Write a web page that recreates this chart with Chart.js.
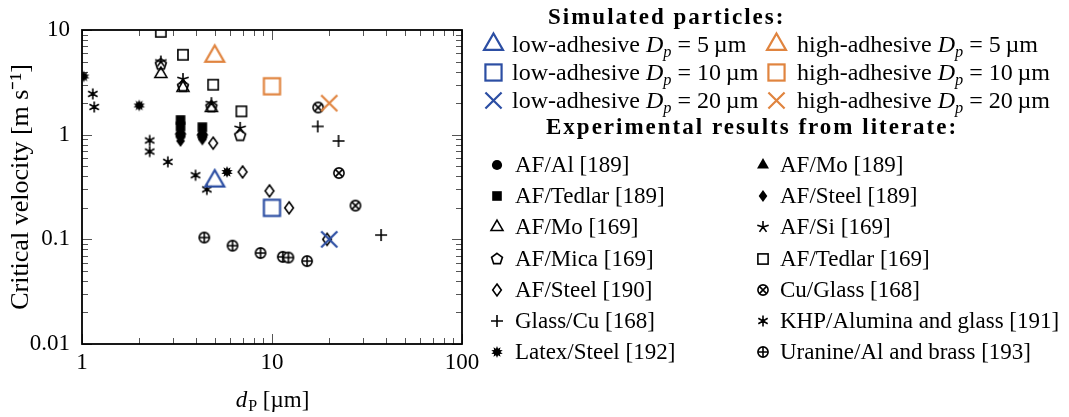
<!DOCTYPE html>
<html lang="en">
<head>
<meta charset="UTF-8">
<title>Critical velocity vs particle diameter</title>
<script src="https://cdn.jsdelivr.net/npm/chart.js"></script>
<style>
  body { margin: 0; background: #fff; }
  #wrap { position: relative; width: 1069px; height: 417px; font-family: 'Liberation Serif', serif; color: #000; }
  #chart { position: absolute; left: 0; top: 0; }
  .lg { position: absolute; white-space: nowrap; font-size: 23px; line-height: 26px; }
  .lg.sim { font-size: 24px; }
  .mk { position: absolute; }
  .hd { position: absolute; white-space: nowrap; font-weight: bold; font-size: 23px; line-height: 26px; letter-spacing: 2px; }
  sub { font-size: 68%; vertical-align: -0.3em; line-height: 0; }
</style>
</head>
<body>
<div id="wrap">
  <canvas id="chart" width="1069" height="417"></canvas>
</div>
<script>
// simulated particles (critical velocity, m/s)
const dpSim = [5, 10, 20];
const vLowAdhesive = [0.36, 0.20, 0.10];
const vHighAdhesive = [5.6, 2.9, 2.0];

// experimental results from literature: diameter (um) and critical velocity (m/s)
const afAl189D = [3.3, 4.3];
const afAl189V = [0.98, 0.97];
const afTedlar189D = [3.3, 3.3, 4.3];
const afTedlar189V = [1.38, 1.2, 1.18];
const afMo189D = [3.3, 4.3];
const afMo189V = [1.08, 1.06];
const afSteel189D = [3.3, 4.3];
const afSteel189V = [0.87, 0.9];
const afMo169D = [2.6, 3.4, 4.8];
const afMo169V = [3.8, 2.8, 1.8];
const afMica169D = [2.6, 3.4, 4.8, 6.8];
const afMica169V = [4.7, 2.9, 1.85, 0.98];
const afSteel190D = [4.9, 7.0, 9.7, 12.3, 19.5];
const afSteel190V = [0.83, 0.44, 0.29, 0.2, 0.1];
const glassCu168D = [17.4, 22.4, 37.5];
const glassCu168V = [1.2, 0.87, 0.11];
const latexSteel192D = [1.02, 2.0, 5.8];
const latexSteel192V = [3.6, 1.9, 0.44];
const afSi169D = [2.6, 3.4, 4.8, 6.8];
const afSi169V = [5.0, 3.4, 2.0, 1.16];
const afTedlar169D = [2.6, 3.4, 4.9, 6.9];
const afTedlar169V = [9.6, 5.8, 3.0, 1.67];
const cuGlass168D = [17.5, 22.5, 27.5];
const cuGlass168V = [1.82, 0.43, 0.21];
const khp191D = [1.14, 1.16, 2.27, 2.27, 2.83, 3.96, 4.54];
const khp191V = [2.45, 1.84, 0.88, 0.69, 0.55, 0.41, 0.30];
const uranine193D = [4.4, 6.2, 8.7, 11.4, 12.2, 15.3];
const uranine193V = [0.104, 0.087, 0.074, 0.068, 0.067, 0.062];

const xTickLabels = ['1', '10', '100'];
const yTickLabels = ['0.01', '0.1', '1', '10'];

const BLUE = '#2c4ea3';
const ORANGE = '#e0843f';
const FONT = "'Liberation Serif', serif";

// marker images (pgfplots-like marks)
function makeMarker(kind, color, size, lw) {
  const pad = Math.ceil(lw) + 1;
  const S = Math.ceil(size + 2 * pad);
  const c = document.createElement('canvas');
  c.width = S; c.height = S;
  const g = c.getContext('2d');
  const m = S / 2, r = size / 2;
  g.strokeStyle = color; g.fillStyle = color;
  g.lineWidth = lw; g.lineJoin = 'miter'; g.lineCap = 'butt';
  const poly = pts => {
    g.beginPath();
    pts.forEach(([x, y], i) => i ? g.lineTo(m + x, m + y) : g.moveTo(m + x, m + y));
    g.closePath();
  };
  const rays = (n, rr) => {
    g.beginPath();
    for (let k = 0; k < n; k++) {
      const a = -Math.PI / 2 + 2 * Math.PI * k / n;
      g.moveTo(m, m); g.lineTo(m + rr * Math.cos(a), m + rr * Math.sin(a));
    }
    g.stroke();
  };
  const R = r * 1.15;
  const tri = [[0, -R], [R * 0.866, R * 0.5], [-R * 0.866, R * 0.5]];
  const dia = [[0, -r], [r * 0.72, 0], [0, r], [-r * 0.72, 0]];
  switch (kind) {
    case 'circle': g.beginPath(); g.arc(m, m, r * 0.85, 0, 2 * Math.PI); g.fill(); break;
    case 'square': g.fillRect(m - r * 0.8, m - r * 0.8, r * 1.6, r * 1.6); break;
    case 'squareO': g.strokeRect(m - r * 0.85, m - r * 0.85, r * 1.7, r * 1.7); break;
    case 'triangle': poly(tri); g.fill(); break;
    case 'triangleO': poly(tri); g.stroke(); break;
    case 'diamond': poly(dia); g.fill(); break;
    case 'diamondO': poly(dia); g.stroke(); break;
    case 'pentagonO': {
      const p = [];
      for (let k = 0; k < 5; k++) {
        const a = -Math.PI / 2 + 2 * Math.PI * k / 5;
        p.push([r * 0.95 * Math.cos(a), r * 0.95 * Math.sin(a)]);
      }
      poly(p); g.stroke(); break;
    }
    case 'star5': rays(5, r); break;
    case 'asterisk': rays(6, r * 0.9); break;
    case 'plus':
      g.beginPath(); g.moveTo(m - r, m); g.lineTo(m + r, m); g.moveTo(m, m - r); g.lineTo(m, m + r); g.stroke(); break;
    case 'cross': {
      const d = r * 0.85;
      g.beginPath(); g.moveTo(m - d, m - d); g.lineTo(m + d, m + d); g.moveTo(m + d, m - d); g.lineTo(m - d, m + d); g.stroke(); break;
    }
    case 'oplus':
    case 'otimes': {
      const rc = r * 0.85;
      g.beginPath(); g.arc(m, m, rc, 0, 2 * Math.PI); g.fillStyle = '#fff'; g.fill(); g.stroke();
      g.beginPath();
      if (kind === 'oplus') {
        g.moveTo(m - rc, m); g.lineTo(m + rc, m); g.moveTo(m, m - rc); g.lineTo(m, m + rc);
      } else {
        const d = rc * 0.707;
        g.moveTo(m - d, m - d); g.lineTo(m + d, m + d); g.moveTo(m + d, m - d); g.lineTo(m - d, m + d);
      }
      g.stroke(); break;
    }
    case 'sun': {
      const p = [];
      for (let k = 0; k < 20; k++) {
        const a = -Math.PI / 2 + Math.PI * k / 10;
        const rr = k % 2 ? r * 0.58 : r;
        p.push([rr * Math.cos(a), rr * Math.sin(a)]);
      }
      poly(p); g.fill(); break;
    }
  }
  return c;
}

const pts = (xs, ys) => xs.map((x, i) => ({ x: x, y: ys[i] }));

const simMarks = ['triangleO', 'squareO', 'cross'];
const simLabels = ['5', '10', '20'];
const simulated = [];
dpSim.forEach((d, i) => {
  simulated.push({ label: 'low-adhesive Dp = ' + simLabels[i] + ' µm', data: [{ x: d, y: vLowAdhesive[i] }],
    img: makeMarker(simMarks[i], BLUE, 19, 2.2), col: 0, row: i, tex: 'low-adhesive', dp: simLabels[i] });
  simulated.push({ label: 'high-adhesive Dp = ' + simLabels[i] + ' µm', data: [{ x: d, y: vHighAdhesive[i] }],
    img: makeMarker(simMarks[i], ORANGE, 19, 2.2), col: 1, row: i, tex: 'high-adhesive', dp: simLabels[i] });
});

const K = '#000';
const experimental = [
  { label: 'AF/Al [189]', data: pts(afAl189D, afAl189V), kind: 'circle', col: 0, row: 0 },
  { label: 'AF/Mo [189]', data: pts(afMo189D, afMo189V), kind: 'triangle', col: 1, row: 0 },
  { label: 'AF/Tedlar [189]', data: pts(afTedlar189D, afTedlar189V), kind: 'square', col: 0, row: 1 },
  { label: 'AF/Steel [189]', data: pts(afSteel189D, afSteel189V), kind: 'diamond', col: 1, row: 1 },
  { label: 'AF/Mo [169]', data: pts(afMo169D, afMo169V), kind: 'triangleO', col: 0, row: 2 },
  { label: 'AF/Si [169]', data: pts(afSi169D, afSi169V), kind: 'star5', col: 1, row: 2 },
  { label: 'AF/Mica [169]', data: pts(afMica169D, afMica169V), kind: 'pentagonO', col: 0, row: 3 },
  { label: 'AF/Tedlar [169]', data: pts(afTedlar169D, afTedlar169V), kind: 'squareO', col: 1, row: 3 },
  { label: 'AF/Steel [190]', data: pts(afSteel190D, afSteel190V), kind: 'diamondO', col: 0, row: 4 },
  { label: 'Cu/Glass [168]', data: pts(cuGlass168D, cuGlass168V), kind: 'otimes', col: 1, row: 4 },
  { label: 'Glass/Cu [168]', data: pts(glassCu168D, glassCu168V), kind: 'plus', col: 0, row: 5 },
  { label: 'KHP/Alumina and glass [191]', data: pts(khp191D, khp191V), kind: 'asterisk', col: 1, row: 5 },
  { label: 'Latex/Steel [192]', data: pts(latexSteel192D, latexSteel192V), kind: 'sun', col: 0, row: 6 },
  { label: 'Uranine/Al and brass [193]', data: pts(uranine193D, uranine193V), kind: 'oplus', col: 1, row: 6 }
];
experimental.forEach(e => { e.img = makeMarker(e.kind, K, 12, 1.6); });

function decadeTicks(lo, hi) {
  const t = [];
  for (let e = lo; e < hi; e++) for (let k = 1; k <= 9; k++) t.push(Number((k * Math.pow(10, e)).toPrecision(6)));
  t.push(Math.pow(10, hi));
  return t;
}
const isMajor = v => Math.abs(Math.log10(v) - Math.round(Math.log10(v))) < 1e-9;
function labelFor(v, labels) {
  if (!isMajor(v)) return '';
  const s = labels.find(l => Math.abs(parseFloat(l) - v) < 1e-9);
  return s === undefined ? '' : s;
}

// box and inward ticks on all four sides
const frameTicks = {
  id: 'frameTicks',
  beforeDatasetsDraw(chart) {
    const { ctx, chartArea: a, scales: { x, y } } = chart;
    ctx.save();
    ctx.strokeStyle = '#555';
    ctx.lineWidth = 1;
    ctx.beginPath();
    x.ticks.forEach(t => {
      const px = Math.round(x.getPixelForValue(t.value)) + 0.5;
      const len = isMajor(t.value) ? 10 : 6;
      ctx.moveTo(px, a.bottom); ctx.lineTo(px, a.bottom - len);
      ctx.moveTo(px, a.top); ctx.lineTo(px, a.top + len);
    });
    y.ticks.forEach(t => {
      const py = Math.round(y.getPixelForValue(t.value)) + 0.5;
      const len = isMajor(t.value) ? 10 : 6;
      ctx.moveTo(a.left, py); ctx.lineTo(a.left + len, py);
      ctx.moveTo(a.right, py); ctx.lineTo(a.right - len, py);
    });
    ctx.stroke();
    ctx.strokeStyle = '#000';
    ctx.lineWidth = 1.8;
    ctx.strokeRect(a.left, a.top, a.right - a.left, a.bottom - a.top);
    ctx.restore();
  },
  afterDraw(chart) {
    // x axis title: d_P [um]
    const { ctx, chartArea: a } = chart;
    ctx.save();
    ctx.fillStyle = '#000';
    ctx.textBaseline = 'alphabetic';
    const f1 = 'italic 23px ' + FONT, f2 = '16px ' + FONT, f3 = '23px ' + FONT;
    ctx.font = f1; const w1 = ctx.measureText('d').width;
    ctx.font = f2; const w2 = ctx.measureText('P').width;
    ctx.font = f3; const w3 = ctx.measureText(' [µm]').width;
    let xx = (a.left + a.right) / 2 - (w1 + w2 + w3) / 2;
    const base = 407;
    ctx.font = f1; ctx.fillText('d', xx, base); xx += w1 + 1;
    ctx.font = f2; ctx.fillText('P', xx, base + 4); xx += w2;
    ctx.font = f3; ctx.fillText(' [µm]', xx, base);
    ctx.restore();
  }
};

const datasets = simulated.concat(experimental).map(s => ({
  label: s.label,
  data: s.data,
  pointStyle: s.img,
  pointRadius: 6,
  showLine: false
}));

new Chart(document.getElementById('chart'), {
  type: 'scatter',
  data: { datasets: datasets },
  options: {
    responsive: false,
    animation: false,
    layout: { padding: { left: 0, right: 607, top: 30, bottom: 0 } },
    plugins: { legend: { display: false }, tooltip: { enabled: false } },
    scales: {
      x: {
        type: 'logarithmic', min: 1, max: 100,
        afterBuildTicks: s => { s.ticks = decadeTicks(0, 2).map(v => ({ value: v })); },
        afterFit: s => { s.height = 73; },
        grid: { display: false, drawTicks: false },
        border: { display: false },
        ticks: { autoSkip: false, maxRotation: 0, padding: 5, color: '#000', font: { family: FONT, size: 23 },
          callback: v => labelFor(v, xTickLabels) }
      },
      y: {
        type: 'logarithmic', min: 0.01, max: 10,
        afterBuildTicks: s => { s.ticks = decadeTicks(-2, 1).map(v => ({ value: v })); },
        afterFit: s => { s.width = 82; },
        grid: { display: false, drawTicks: false },
        border: { display: false },
        title: { display: true, text: 'Critical velocity [m s⁻¹]', color: '#000', font: { family: FONT, size: 26 },
          padding: { top: 6, bottom: 0 } },
        ticks: { autoSkip: false, padding: 12, color: '#000', font: { family: FONT, size: 23 },
          callback: v => labelFor(v, yTickLabels) }
      }
    }
  },
  plugins: [frameTicks]
});

// legend (HTML, built from the datasets above)
const wrap = document.getElementById('wrap');
function addItem(img, mx, my, tx, html, cls) {
  const im = document.createElement('img');
  im.className = 'mk';
  im.src = img.toDataURL();
  im.style.left = (mx - img.width / 2) + 'px';
  im.style.top = (my - img.height / 2) + 'px';
  wrap.appendChild(im);
  const d = document.createElement('div');
  d.className = 'lg' + (cls ? ' ' + cls : '');
  d.style.left = tx + 'px';
  d.style.top = (my - 13) + 'px';
  d.innerHTML = html;
  wrap.appendChild(d);
}
function addHeading(text, left, cy) {
  const d = document.createElement('div');
  d.className = 'hd';
  d.style.left = left + 'px';
  d.style.top = (cy - 13) + 'px';
  d.textContent = text;
  wrap.appendChild(d);
}
addHeading('Simulated particles:', 548, 17);
const simColM = [493, 776], simColT = [512, 797], simRowY = [44, 72, 100];
simulated.forEach(s => {
  addItem(s.img, simColM[s.col], simRowY[s.row], simColT[s.col],
    s.tex + ' <i>D</i><sub><i>p</i></sub> = ' + s.dp + '&thinsp;µm', 'sim');
});
addHeading('Experimental results from literate:', 546, 127);
const expColM = [497, 763], expColT = [515, 780];
experimental.forEach(e => {
  addItem(e.img, expColM[e.col], 165 + e.row * 31.2, expColT[e.col], e.label);
});
</script>
</body>
</html>
